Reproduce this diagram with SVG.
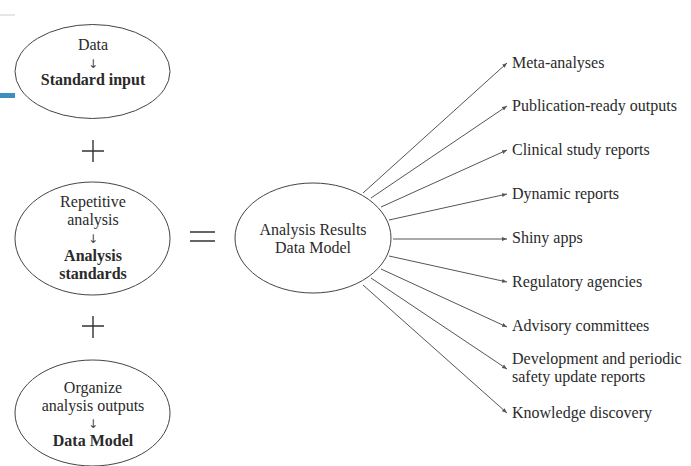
<svg xmlns="http://www.w3.org/2000/svg" width="691" height="466" viewBox="0 0 691 466">
<style>
text{font-family:"Liberation Serif","Times New Roman",serif;font-size:16px;fill:#2a2a2a}
.c{text-anchor:middle}
.b{font-weight:bold}
.a{font-family:"DejaVu Sans",sans-serif;font-size:12px;fill:#444}
.n{fill:none;stroke:#555;stroke-width:1}
.e{fill:#fff;stroke:#444;stroke-width:1}
.s{stroke:#333;stroke-width:1.4;fill:none}
</style>
<defs>
<marker id="ah" viewBox="0 0 10 10" refX="10" refY="5" markerWidth="5" markerHeight="5" orient="auto" markerUnits="userSpaceOnUse">
<path d="M0,1 L10,5 L0,9 z" fill="#555"/>
</marker>
</defs>
<rect width="691" height="466" fill="#fff"/>
<line x1="0" y1="15" x2="15" y2="15" stroke="#ccc" stroke-width="1"/>
<rect x="0" y="93" width="15" height="5" fill="#3a8fc0"/>
<g id="standard-input">
<ellipse class="e" cx="92.5" cy="71.5" rx="77.5" ry="47"/>
<text class="c" x="93" y="50">Data</text>
<text class="c a" x="93" y="68">↓</text>
<text class="c b" x="93" y="85">Standard input</text>
</g>
<g id="plus1"><path class="s" d="M93,140 V162 M82,151 H104"/></g>
<g id="analysis-standards">
<ellipse class="e" cx="92.5" cy="238.5" rx="77.5" ry="56.5"/>
<text class="c" x="93" y="207">Repetitive</text>
<text class="c" x="93" y="225">analysis</text>
<text class="c a" x="93" y="243">↓</text>
<text class="c b" x="93" y="261">Analysis</text>
<text class="c b" x="93" y="279">standards</text>
</g>
<g id="plus2"><path class="s" d="M93,316 V338 M82,326 H104"/></g>
<g id="data-model">
<ellipse class="e" cx="92.5" cy="413" rx="77.5" ry="53"/>
<text class="c" x="93" y="393">Organize</text>
<text class="c" x="93" y="411">analysis outputs</text>
<text class="c a" x="93" y="428">↓</text>
<text class="c b" x="93" y="446">Data Model</text>
</g>
<g id="equals"><path class="s" d="M190,232 H215 M190,241 H215"/></g>
<g id="ardm">
<ellipse class="e" cx="313" cy="238" rx="78" ry="55"/>
<text class="c" x="313" y="235">Analysis Results</text>
<text class="c" x="313" y="253">Data Model</text>
</g>
<g id="connectors">
<line class="n" marker-end="url(#ah)" x1="363" y1="193" x2="507" y2="63"/>
<line class="n" marker-end="url(#ah)" x1="371" y1="198" x2="507" y2="106"/>
<line class="n" marker-end="url(#ah)" x1="381" y1="207" x2="507" y2="150"/>
<line class="n" marker-end="url(#ah)" x1="389" y1="220" x2="507" y2="194"/>
<line class="n" marker-end="url(#ah)" x1="393" y1="239" x2="507" y2="239"/>
<line class="n" marker-end="url(#ah)" x1="389" y1="256" x2="507" y2="282"/>
<line class="n" marker-end="url(#ah)" x1="381" y1="269" x2="507" y2="327"/>
<line class="n" marker-end="url(#ah)" x1="371" y1="278" x2="507" y2="369"/>
<line class="n" marker-end="url(#ah)" x1="363" y1="285" x2="507" y2="413"/>
</g>
<g id="outputs">
<text x="512" y="68">Meta-analyses</text>
<text x="512" y="111">Publication-ready outputs</text>
<text x="512" y="155">Clinical study reports</text>
<text x="512" y="199">Dynamic reports</text>
<text x="512" y="243">Shiny apps</text>
<text x="512" y="287">Regulatory agencies</text>
<text x="512" y="331">Advisory committees</text>
<text x="512" y="364">Development and periodic</text>
<text x="512" y="382">safety update reports</text>
<text x="512" y="418">Knowledge discovery</text>
</g>
</svg>
